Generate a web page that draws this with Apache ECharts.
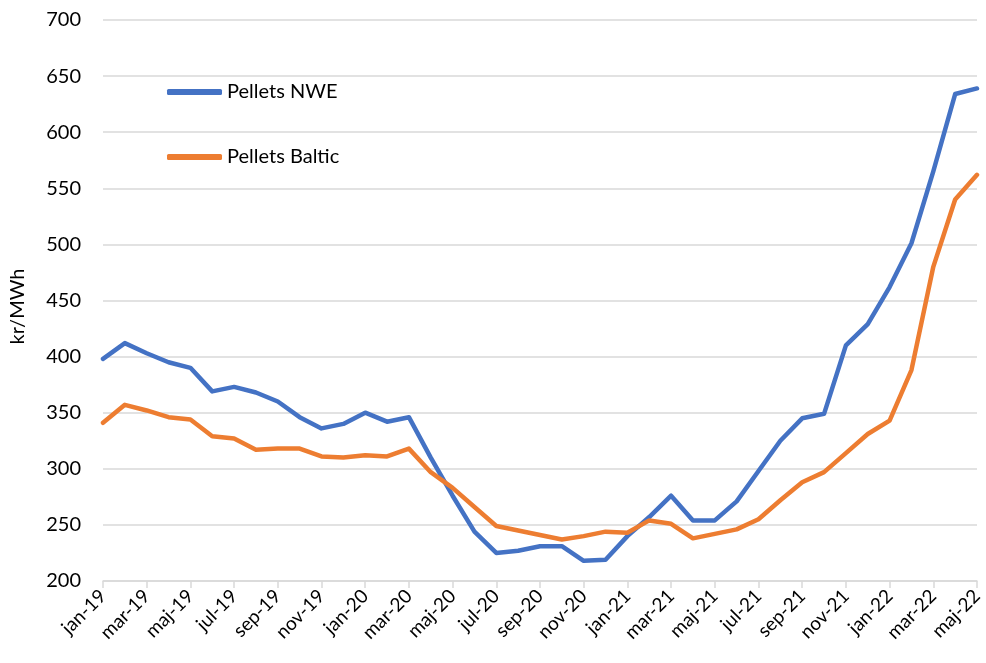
<!DOCTYPE html>
<html>
<head>
<meta charset="utf-8">
<script src="https://cdn.jsdelivr.net/npm/echarts@6/dist/echarts.min.js"></script>
<style>
html,body{margin:0;padding:0;background:#fff;}
#c{width:986px;height:663px;}
</style>
</head>
<body>
<div id="c"></div>
<script>
const months = ['jan-19','feb-19','mar-19','apr-19','maj-19','jun-19','jul-19','aug-19','sep-19','okt-19','nov-19','dec-19',
'jan-20','feb-20','mar-20','apr-20','maj-20','jun-20','jul-20','aug-20','sep-20','okt-20','nov-20','dec-20',
'jan-21','feb-21','mar-21','apr-21','maj-21','jun-21','jul-21','aug-21','sep-21','okt-21','nov-21','dec-21',
'jan-22','feb-22','mar-22','apr-22','maj-22'];
const pelletsNWE = [398,412,403,395,390,369,373,368,360,346,336,340,
350,342,346,310,276,244,225,227,231,231,218,219,
240,257,276,254,254,271,298,325,345,349,410,429,
462,501,565,634,639];
const pelletsBaltic = [341,357,352,346,344,329,327,317,318,318,311,310,
312,311,318,297,283,266,249,245,241,237,240,244,
243,254,251,238,242,246,255,272,288,297,314,331,
343,388,480,540,562];
const yMin = 200, yMax = 700, yStep = 50;

const chart = echarts.init(document.getElementById('c'));
const font = 'Lato, "Liberation Sans", sans-serif';
chart.setOption({
  animation: false,
  backgroundColor: '#ffffff',
  grid: {left: 103, right: 9, top: 20, bottom: 82, containLabel: false, outerBoundsMode: 'none'},
  legend: {
    orient: 'vertical',
    left: 162, top: 77,
    itemGap: 45,
    itemWidth: 55, itemHeight: 6,
    icon: 'roundRect',
    textStyle: {fontFamily: font, fontSize: 20, color: '#000'},
    data: ['Pellets NWE', 'Pellets Baltic']
  },
  xAxis: {
    type: 'category',
    data: months,
    boundaryGap: false,
    axisLine: {lineStyle: {color: '#d9d9d9', width: 1.5}},
    axisTick: {show: true, interval: 1, length: 7, lineStyle: {color: '#d9d9d9', width: 1.5}},
    axisLabel: {interval: 1, rotate: 45, fontFamily: font, fontSize: 19, color: '#000', margin: 12},
    splitLine: {show: false}
  },
  yAxis: {
    type: 'value',
    min: yMin, max: yMax, interval: yStep,
    name: 'kr/MWh',
    nameLocation: 'middle',
    nameGap: 75,
    nameTextStyle: {fontFamily: font, fontSize: 20, color: '#000', padding: [0, 12, 0, 0]},
    axisLine: {show: false},
    axisTick: {show: false},
    axisLabel: {fontFamily: font, fontSize: 20, color: '#000', margin: 22},
    splitLine: {lineStyle: {color: '#d9d9d9', width: 1.5}}
  },
  series: [
    {name: 'Pellets NWE', type: 'line', data: pelletsNWE, symbol: 'none',
     lineStyle: {color: '#4472C4', width: 4.5, cap: 'round', join: 'round'}, itemStyle: {color: '#4472C4'}},
    {name: 'Pellets Baltic', type: 'line', data: pelletsBaltic, symbol: 'none',
     lineStyle: {color: '#ED7D31', width: 4.5, cap: 'round', join: 'round'}, itemStyle: {color: '#ED7D31'}}
  ]
});
</script>
</body>
</html>
